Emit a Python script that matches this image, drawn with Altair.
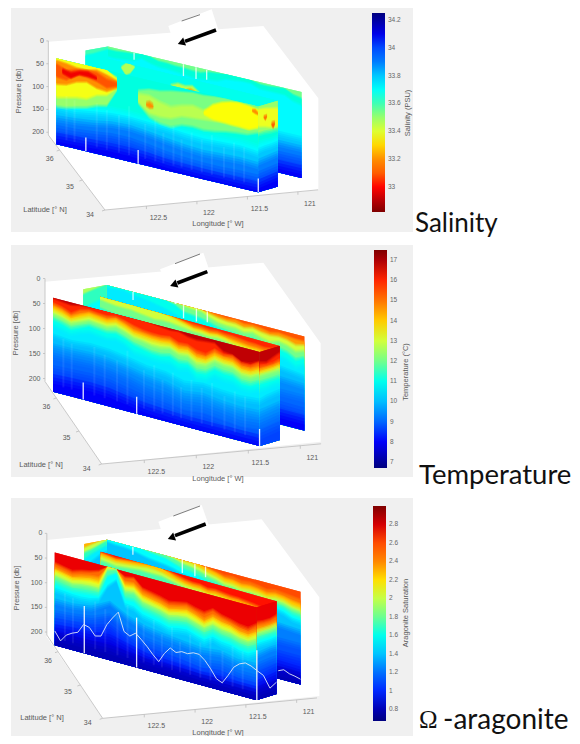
import altair as alt
import numpy as np
import pandas as pd

# ---------- geometry of the three 3-D views ----------
LON0 = 122.91
P_FLOOR = 206
P_TOP = 18
PANELS = [
    dict(A=(315, 630), L=(303, -28.7), V=(-68, -90), k=1.37, off=0),
    dict(A=(305, 672), L=(312, -28.7), V=(-68, -99), k=1.50, off=240),
    dict(A=(308, 685), L=(304.7, -29), V=(-67, -100), k=1.48, off=490),
]
BACKGROUNDS = [(11, 6, 413, 232), (11, 245, 413, 477), (11, 498, 413, 738)]
HULL_TOP = [[(145, 125), (790, 78), (955, 295)], [(135, 125), (790, 68), (962, 310)], [(140, 150), (785, 88), (958, 322)]]
HULL_BOT = [[(145, 405), (315, 630), (955, 570)], [(135, 425), (305, 672), (962, 605)], [(140, 440), (308, 685), (958, 618)]]
BOX_TOP = [[(505, 78), (635, 28), (668, 130)], [(480, 88), (610, 38), (645, 140)], [(475, 95), (605, 45), (640, 145)]]
BOX_BOT = [[(505, 78), (540, 185), (668, 130)], [(480, 88), (525, 192), (645, 140)], [(475, 95), (510, 198), (640, 145)]]
ARROW = [[(648, 90), (555, 124)], [(622, 95), (532, 129)], [(617, 102), (525, 137)]]
ARROW_TIP = [(547, 127), (524, 133), (517, 142)]
BOX_EDGE = [[(545, 63), (600, 44)], [(525, 71), (600, 42)], [(520, 78), (600, 48)]]

# survey legs: lon/lat of each end
FRONT = (122.90, 36.19, 121.37, 34.10)
SIDE = (121.37, 34.10, 121.15, 34.22)
MIDDLE = (122.47, 36.09, 121.15, 34.22)
LINK = (122.575, 36.35, 122.34, 36.41)
BACK = (122.34, 36.41, 120.87, 34.42)

PRESSURE_TICKS = [0, 50, 100, 150, 200]
LAT_TICKS = [34, 35, 36]
LON_TICKS = [122.5, 122, 121.5, 121]
LON_LABELS = ["122.5", "122", "121.5", "121"]
FRONT_GAPS = [0.146, 0.405, 1.0]
GAP_TOPS = [[176, 176, 176], [172, 172, 172], [110, 105, 105]]
BACK_GAPS = [0.135, 0.39, 0.455, 0.51]
BACK_GAP_BOTTOM = [34, 44, 44, 40, 36]
STREAKS = [0.05, 0.09, 0.2, 0.25, 0.31, 0.36, 0.44, 0.49, 0.53, 0.58, 0.62, 0.67, 0.72, 0.77, 0.83, 0.88, 0.93]
STREAK_TOP = [95, 100, 95, 105, 110, 85, 115, 100, 125, 105, 130, 110, 120, 105, 125, 110, 115]

# ---------- Temperature ----------
T_DOMAIN = (6.7, 17.5)
T_TICKS = [7, 8, 9, 10, 11, 12, 13, 14, 15, 16, 17]
TF_160 = [22, 24, 26, 22, 20, 18, 18, 18, 18, 18, 18, 20, 22, 24, 22, 28, 30, 28, 26, 40, 42, 52, 50, 40]
TF_150 = [31, 35, 43, 31, 26, 28, 29, 25, 29, 35, 39, 41, 41, 38, 46, 45, 53, 55, 39, 46, 43, 54, 54, 42]
TF_140 = [38, 42, 50, 40, 32, 34, 36, 30, 36, 44, 46, 48, 48, 46, 54, 52, 62, 62, 48, 52, 52, 62, 62, 52]
TF_130 = [46, 50, 57, 48, 40, 42, 44, 38, 44, 52, 54, 56, 56, 54, 62, 60, 70, 70, 56, 60, 60, 70, 70, 60]
TF_120 = [54, 58, 64, 56, 48, 50, 52, 46, 52, 60, 62, 66, 66, 62, 70, 68, 80, 78, 64, 68, 68, 78, 78, 68]
TF_110 = [64, 68, 74, 66, 58, 60, 62, 58, 64, 72, 76, 80, 80, 76, 84, 82, 94, 92, 78, 82, 82, 92, 92, 82]
TF_105 = [78, 82, 86, 78, 72, 74, 76, 72, 78, 90, 92, 94, 94, 92, 100, 96, 110, 108, 94, 98, 98, 106, 106, 98]
TF_100 = [100, 104, 100, 102, 108, 116, 118, 128, 122, 126, 128, 124]
TF_095 = [122, 122, 120, 122, 128, 136, 140, 150, 144, 150, 152, 150]
TF_090 = [142, 142, 140, 144, 150, 160, 164, 172, 168, 172, 176, 172]
TF_085 = [170, 168, 166, 168, 176, 184, 188, 194, 190, 194, 198, 194]
TF_080 = [190, 188, 186, 188, 194, 200, 202, 204, 204, 204, 204, 204]
T_FRONT = [(16.8, [18, 18]), (16, TF_160), (15, TF_150), (14, TF_140), (13, TF_130), (12, TF_120), (11, TF_110),
           (10.5, TF_105), (10, TF_100), (9.5, TF_095), (9, TF_090), (8.5, TF_085), (8, TF_080)]

TB_145 = [18] * 12 + [18, 22, 24, 22, 26, 24, 26, 30, 26, 28, 30, 30]
TB_130 = [18] * 9 + [18, 18, 18, 24, 28, 30, 30, 34, 30, 34, 36, 34, 36, 42, 38]
TB_120 = [18, 18, 18, 18, 18, 18, 18, 18, 18, 22, 24, 24, 32, 38, 40, 40, 44, 40, 46, 50, 44, 48, 56, 50]
TB_110 = [18, 18, 18, 18, 18, 18, 18, 18, 24, 34, 36, 38, 42, 48, 50, 52, 56, 52, 58, 64, 58, 62, 72, 64]
TB_105 = [26, 24, 22, 26, 28, 30, 34, 38, 44, 50, 52, 54, 56, 60, 62, 66, 70, 68, 72, 80, 74, 78, 88, 80]
T_BACK = [(15.5, [18, 18]), (14.5, TB_145), (13, TB_130), (12, TB_120), (11, TB_110), (10.5, TB_105),
          (10, [60, 60, 70, 80, 95, 105]), (9.5, [100, 100, 105, 115, 120, 125]),
          (9, [140, 140, 140, 145, 150, 150]), (8.5, [170, 170, 170, 172, 176, 178]), (8, [192, 192, 192, 192, 194, 194])]
T_LINK = [(12.6, [18, 18]), (11.5, [30, 26, 22, 18]), (10.8, [60, 54, 50, 46])]
TM_150 = [18] * 9 + [18, 20, 22, 24, 24, 26, 24, 26, 26, 28, 30, 30, 32, 30, 28]
TM_140 = [18] * 9 + [18, 22, 26, 30, 30, 32, 30, 32, 34, 36, 38, 38, 40, 38, 36]
TM_130 = [18] * 9 + [22, 26, 30, 34, 34, 36, 34, 36, 40, 42, 44, 44, 46, 44, 42]
TM_120 = [26, 28, 30, 30, 30, 32, 34, 36, 34, 34, 36, 38, 40, 40, 42, 40, 42, 46, 48, 50, 50, 52, 50, 48]
TM_110 = [44, 46, 48, 48, 46, 48, 50, 52, 50, 50, 52, 54, 56, 56, 58, 56, 58, 62, 64, 66, 66, 68, 66, 64]
T_MIDDLE = [(16, [18, 18]), (15, TM_150), (14, TM_140), (13, TM_130), (12, TM_120), (11, TM_110), (10.2, [70, 72, 76, 80])]
T_SIDE = [(16.8, [18, 18]), (16, [42, 46, 40, 34]), (15, [50, 52, 52, 48]), (14, [58, 58, 58, 56]), (13, [64, 64, 64, 62]),
          (12, [70, 70, 70, 70]), (11, [84, 84, 84, 84]), (10.5, [100, 100, 98, 98]), (10, [124, 120, 118, 116]),
          (9.5, [148, 146, 144, 142]), (9, [172, 170, 168, 166]), (8.5, [194, 192, 190, 188])]

# ---------- Aragonite saturation ----------
O_DOMAIN = (0.67, 3.0)
O_TICKS = [0.8, 1, 1.2, 1.4, 1.6, 1.8, 2, 2.2, 2.4, 2.6, 2.8]
OF_250 = [42, 46, 50, 44, 40, 34, 18, 18, 32, 28, 46, 50, 54, 60, 56, 52, 58, 62, 50, 58, 62, 68, 70, 56]
OF_230 = [52, 56, 60, 54, 50, 48, 18, 18, 42, 40, 56, 60, 64, 70, 66, 62, 68, 76, 62, 68, 72, 78, 80, 68]
OF_210 = [58, 62, 66, 62, 58, 58, 19, 18, 50, 48, 64, 68, 72, 78, 74, 70, 76, 84, 70, 76, 78, 86, 88, 76]
OF_195 = [64, 68, 72, 68, 66, 66, 22, 19, 56, 54, 70, 74, 78, 84, 80, 78, 84, 90, 78, 84, 86, 92, 94, 84]
OF_175 = [72, 76, 80, 76, 74, 74, 28, 21, 64, 62, 78, 82, 86, 92, 88, 86, 92, 98, 86, 92, 94, 100, 102, 92]
OF_155 = [84, 88, 90, 88, 86, 84, 40, 28, 76, 76, 90, 94, 98, 104, 100, 98, 104, 110, 98, 104, 106, 112, 114, 104]
OF_140 = [100, 102, 104, 104, 102, 96, 62, 44, 92, 94, 106, 110, 114, 120, 116, 114, 120, 126, 114, 120, 122, 128, 130, 120]
OF_125 = [124, 124, 118, 96, 118, 130, 136, 140, 144, 140, 148, 146]
OF_110 = [150, 146, 140, 124, 146, 156, 160, 164, 170, 164, 172, 172]
OF_100 = [168, 164, 160, 148, 166, 178, 180, 184, 190, 184, 190, 190]
OF_090 = [182, 178, 176, 170, 180, 190, 192, 194, 198, 196, 198, 198]
OF_080 = [198, 196, 196, 194, 198, 202, 202, 203, 204, 204, 204, 204]
O_FRONT = [(2.75, [18, 18]), (2.5, OF_250), (2.3, OF_230), (2.1, OF_210), (1.95, OF_195), (1.75, OF_175), (1.55, OF_155),
           (1.4, OF_140), (1.25, OF_125), (1.1, OF_110), (1.0, OF_100), (0.9, OF_090), (0.8, OF_080)]
OB_245 = [18] * 12 + [20, 24, 28, 26, 30, 28, 30, 34, 30, 32, 34, 36]
OB_225 = [18] * 11 + [18, 24, 28, 34, 34, 38, 36, 38, 42, 38, 40, 44, 46]
OB_200 = [18] * 8 + [18, 22, 22, 26, 32, 36, 42, 42, 46, 44, 46, 50, 46, 48, 54, 56]
OB_175 = [18] * 8 + [22, 28, 30, 34, 40, 44, 50, 50, 54, 52, 54, 58, 54, 56, 62, 64]
OB_155 = [18, 18, 18, 18, 18, 22, 24, 26, 32, 38, 40, 44, 50, 52, 58, 58, 62, 60, 62, 66, 62, 64, 72, 74]
OB_140 = [24, 26, 26, 28, 32, 36, 38, 40, 44, 50, 52, 56, 60, 62, 68, 68, 72, 70, 72, 76, 72, 76, 84, 86]
O_BACK = [(2.6, [18, 18]), (2.45, OB_245), (2.25, OB_225), (2.0, OB_200), (1.75, OB_175), (1.55, OB_155), (1.4, OB_140),
          (1.25, [60, 60, 70, 85, 100, 106]), (1.1, [120, 120, 125, 130, 136, 136]), (1.0, [150, 150, 155, 160, 164, 164]),
          (0.9, [178, 178, 180, 184, 186, 188]), (0.8, [198, 198, 198, 198, 200, 200])]
O_LINK = [(2.3, [18, 18]), (2.0, [28, 24, 20, 18]), (1.7, [38, 34, 28, 22]), (1.5, [52, 44, 38, 32]), (1.4, [70, 60, 50, 44])]
OM_245 = [20, 22, 24, 22, 20, 18, 18, 18, 18, 20, 24, 28, 30, 30, 34, 32, 34, 36, 36, 38, 40, 42, 40, 38]
OM_225 = [24, 26, 28, 26, 24, 22, 20, 18, 18, 24, 30, 34, 36, 36, 40, 38, 40, 42, 42, 44, 46, 48, 46, 44]
OM_200 = [30, 32, 34, 32, 30, 28, 26, 26, 28, 32, 36, 40, 42, 42, 46, 44, 46, 48, 48, 50, 52, 54, 52, 50]
OM_175 = [38, 40, 42, 40, 38, 36, 36, 36, 36, 40, 44, 48, 50, 50, 54, 52, 54, 56, 56, 58, 60, 62, 60, 58]
OM_150 = [50, 52, 54, 52, 50, 50, 50, 50, 50, 52, 56, 60, 62, 62, 66, 64, 66, 68, 68, 70, 72, 74, 72, 70]
O_MIDDLE = [(2.7, [18, 18]), (2.45, OM_245), (2.25, OM_225), (2.0, OM_200), (1.75, OM_175), (1.5, OM_150)]
O_SIDE = [(2.75, [18, 18]), (2.5, [52, 54, 54, 50]), (2.3, [62, 64, 64, 62]), (2.0, [70, 70, 70, 68]), (1.75, [78, 78, 78, 76]),
          (1.55, [88, 88, 88, 88]), (1.4, [102, 102, 102, 100]), (1.25, [122, 120, 118, 118]), (1.1, [146, 144, 142, 142]),
          (1.0, [166, 164, 162, 160]), (0.9, [184, 182, 180, 178]), (0.8, [200, 198, 198, 196])]
# saturation-horizon trace (white line), pressure along each leg
TRACE_FRONT = [177, 194, 179, 172, 167, 148, 151, 165, 162, 136, 119, 104, 140, 146, 137, 147, 158, 171, 182, 162, 148, 154,
               149, 150, 145, 145, 154, 168, 185, 190, 172, 152, 142, 137, 140, 146]
TRACE_SIDE = [146, 160, 190, 182]
TRACE_BACK = [190, 185, 190, 192, 195]

# ---------- Salinity ----------
S_DOMAIN = (32.82, 34.25)
S_TICKS = [33, 33.2, 33.4, 33.6, 33.8, 34, 34.2]
SF_3372 = [118, 118, 112, 105, 105, 108, 110, 112, 112, 110, 108, 112]
SF_3380 = [135, 135, 128, 122, 120, 122, 124, 128, 130, 128, 126, 130]
SF_3390 = [158, 155, 150, 142, 140, 144, 150, 155, 158, 156, 154, 156]
SF_3400 = [182, 180, 176, 170, 170, 175, 182, 186, 188, 188, 186, 186]
SF_3408 = [200, 198, 196, 194, 194, 196, 200, 202, 203, 203, 203, 203]
S_FRONT = [(33.66, [18, 18]), (33.72, SF_3372), (33.8, SF_3380), (33.9, SF_3390), (34.0, SF_3400), (34.08, SF_3408)]
# patches: value, upper, lower, start and end along the leg
S_FRONT_PATCHES = [
    (33.5, [18, 18, 18, 18, 18, 18, 30], [120, 117, 111, 106, 97, 92, 55], 0, 0.30),
    (33.37, [18, 18, 18, 18, 18, 18, 34], [100, 95, 90, 88, 75, 70, 50], 0, 0.30),
    (33.2, [24, 26, 30, 30, 24, 30, 38], [72, 68, 57, 52, 60, 62, 50], 0, 0.30),
    (33.08, [32, 42, 34, 30, 30, 40, 42], [56, 58, 42, 42, 46, 54, 46], 0, 0.30),
    (32.98, [40, 44, 36, 33, 40], [46, 52, 40, 40, 42], 0.03, 0.2),
    (33.54, [48, 40, 38, 32, 28, 24, 24, 21, 19, 19, 18, 18], [72, 95, 103, 105, 95, 93, 95, 92, 87, 84, 82, 73], 0.405, 1.0),
    (33.45, [56, 54, 63, 68, 59, 53, 58, 49, 32, 22, 24, 25], [68, 87, 89, 87, 77, 75, 73, 71, 68, 70, 71, 65], 0.405, 1.0),
    (33.36, [60, 40, 30, 24, 22, 24, 28], [62, 68, 69, 70, 70, 71, 62], 0.73, 1.0),
    (33.2, [72, 68, 73], [73, 76, 74], 0.445, 0.48),
    (33.2, [30, 28, 34], [31, 34, 35], 0.97, 1.0),
]
SB_3365 = [26, 26, 24, 22, 18, 20, 26, 26, 28, 28, 30, 30, 24, 22, 18, 18, 18, 18, 24, 24, 22, 20, 30, 34]
SB_3372 = [44, 44, 42, 40, 30, 36, 40, 40, 42, 44, 46, 46, 42, 40, 32, 30, 28, 28, 36, 36, 36, 36, 46, 50]
S_BACK = [(33.55, [18, 18]), (33.65, SB_3365), (33.72, SB_3372), (33.8, [120, 120, 124, 126, 128, 128]),
          (33.9, [150, 150, 152, 152, 150, 150]), (34.0, [178, 178, 178, 176, 176, 176]), (34.08, [198, 198, 198, 198, 198, 198])]
S_LINK = [(33.6, [18, 18]), (33.68, [30, 30, 28, 26])]
S_MIDDLE = [(33.68, [18, 18])]
S_MIDDLE_PATCHES = [
    (33.46, [30, 20, 18, 22], [30, 42, 36, 22], 0.11, 0.185),
    (33.45, [44, 36, 38, 34, 46], [46, 48, 48, 48, 48], 0.39, 0.555),
    (33.22, [46, 42, 46], [47, 48, 47], 0.48, 0.53),
]
S_SIDE = [(33.5, [18, 18]), (33.65, [84, 84, 86, 86]), (33.72, [104, 104, 104, 102]), (33.8, [122, 120, 120, 118]),
          (33.9, [148, 146, 144, 142]), (34.0, [178, 176, 174, 172]), (34.08, [198, 196, 194, 192])]
S_SIDE_PATCHES = [
    (33.38, [26, 28, 32, 36], [60, 64, 70, 72], 0, 1),
    (33.15, [45, 45, 45], [45, 51, 45], 0.28, 0.45),
    (33.1, [66, 66, 66], [66, 73, 66], 0.68, 0.85),
]

JET = ["#00007f", "#0000ff", "#007fff", "#00ffff", "#7fff7f", "#ffff00", "#ff7f00", "#ff0000", "#7f0000"]
# soft edges of each colour band: reach (share of the edge width) and opacity of each wash
EDGE_WASH = [(1.0, 0.3), (0.66, 0.4), (0.33, 0.55), (0.0, 1.0)]


def proj(panel, lon, lat, p):
    g = PANELS[panel]
    u = LON0 - np.asarray(lon, dtype=float)
    v = np.asarray(lat, dtype=float) - 34
    p = np.asarray(p, dtype=float)
    zx = g["A"][0] + g["L"][0] * u + g["V"][0] * v
    zy = g["A"][1] + g["L"][1] * u + g["V"][1] * v + (p - P_FLOOR) * g["k"]
    return zx / 3, zy / 3 + g["off"]


def leg_rows(panel, leg, levels, patches, name):
    rows = []
    entries = [(val, up, None, 0, 1) for val, up in levels] + list(patches)
    for j, (val, up, low, f0, f1) in enumerate(entries):
        f = np.linspace(f0, f1, len(up))
        lon = leg[0] + (leg[2] - leg[0]) * f
        lat = leg[1] + (leg[3] - leg[1]) * f
        up = np.asarray(up, dtype=float)
        low_arr = np.full(up.shape, float(P_FLOOR)) if low is None else np.asarray(low, dtype=float)
        soft = 2 + 0.09 * up
        for w, (reach, op) in enumerate(EDGE_WASH):
            u2 = np.maximum(up - reach * soft, P_TOP)
            l2 = low_arr if low is None else np.minimum(low_arr + reach * (2 + 0.05 * low_arr), P_FLOOR)
            x, y = proj(panel, lon, lat, u2)
            _, y2 = proj(panel, lon, lat, l2)
            for a, b, c in zip(x, y, y2):
                rows.append(dict(x=float(a), y=float(b), y2=float(c), value=val, op=op, band=f"{name}{j:02d}{w}"))
    return rows


def curtain_layer(panel, dom, ticks, legend_xy, length, reverse, groups):
    rows = []
    for g in groups:
        rows += leg_rows(panel, *g)
    stops = np.linspace(dom[0], dom[1], len(JET)).tolist()
    rng = JET[::-1] if reverse else JET
    return alt.Chart(pd.DataFrame(rows)).mark_area(interpolate="linear").encode(
        x=X, y=Y, y2="y2:Q", detail="band:N",
        opacity=alt.Opacity("op:Q", scale=None, legend=None),
        color=alt.Color("value:Q", scale=alt.Scale(domain=stops, range=rng),
                        legend=alt.Legend(title=None, orient="none", legendX=legend_xy[0] - 8, legendY=legend_xy[1] - 8,
                                          gradientLength=length, gradientThickness=13, gradientStrokeWidth=0,
                                          values=ticks, format=".1~f", labelFontSize=6.5, labelColor="#666666", labelOffset=3,
                                          labelOverlap=False, labelFont="Liberation Sans", direction="vertical")))


xs = alt.Scale(domain=[8, 572], nice=False, zero=False)
ys = alt.Scale(domain=[736, 8], nice=False, zero=False)
X = alt.X("x:Q", scale=xs, axis=None)
Y = alt.Y("y:Q", scale=ys, axis=None)


def envelope(top, bot, name):
    top = np.array(top, dtype=float) / 3
    bot = np.array(bot, dtype=float) / 3
    xv = sorted(set(top[:, 0]) | set(bot[:, 0]))
    return [dict(x=a, y=float(np.interp(a, top[:, 0], top[:, 1])), y2=float(np.interp(a, bot[:, 0], bot[:, 1])), g=name) for a in xv]


bg = alt.Chart(pd.DataFrame([dict(x=a, x2=c, y=b, y2=d) for a, b, c, d in BACKGROUNDS])).mark_rect(color="#f0f0f0").encode(
    x=X, x2="x2:Q", y=Y, y2="y2:Q")

floor_rows, box_rows, axis_rows, arrow_rows, tip_rows, edge_rows = [], [], [], [], [], []
ptext, lattext, lontext, gap_rows, streak_rows = [], [], [], [], []
for i, g in enumerate(PANELS):
    off = g["off"]
    floor_rows += [dict(r, y=r["y"] + off, y2=r["y2"] + off) for r in envelope(HULL_TOP[i], HULL_BOT[i], f"f{i}")]
    box_rows += [dict(r, y=r["y"] + off, y2=r["y2"] + off) for r in envelope(BOX_TOP[i], BOX_BOT[i], f"b{i}")]
    for a, b in ARROW[i]:
        arrow_rows.append(dict(x=a / 3, y=b / 3 + off, g=f"a{i}"))
    tip_rows.append(dict(x=ARROW_TIP[i][0] / 3, y=ARROW_TIP[i][1] / 3 + off))
    for a, b in BOX_EDGE[i]:
        edge_rows.append(dict(x=a / 3, y=b / 3 + off, g=f"e{i}"))
    lat_back = 36.5
    for name, pts in {
        "z": [(LON0, lat_back, 0), (LON0, lat_back, P_FLOOR)],
        "lat": [(LON0, lat_back, P_FLOOR), (LON0, 34, P_FLOOR)],
        "lon": [(LON0, 34, P_FLOOR), (120.8, 34, P_FLOOR)],
    }.items():
        for lo, la, pr in pts:
            xx, yy = proj(i, lo, la, pr)
            axis_rows.append(dict(x=float(xx), y=float(yy), g=f"{name}{i}"))
    for pr in PRESSURE_TICKS:
        xx, yy = proj(i, LON0, lat_back, pr)
        ptext.append(dict(x=float(xx) - 4.5, y=float(yy), t=str(pr)))
        axis_rows += [dict(x=float(xx), y=float(yy), g=f"pt{i}{pr}"), dict(x=float(xx) - 2, y=float(yy), g=f"pt{i}{pr}")]
    for la in LAT_TICKS:
        xx, yy = proj(i, LON0, la, P_FLOOR)
        lattext.append(dict(x=float(xx) - 11 + (la - 34) * 2.5, y=float(yy) + 5 + (la - 34) * 2, t=str(la)))
        axis_rows += [dict(x=float(xx), y=float(yy), g=f"lt{i}{la}"), dict(x=float(xx) - 3, y=float(yy) + 1, g=f"lt{i}{la}")]
    for lo, lab in zip(LON_TICKS, LON_LABELS):
        xx, yy = proj(i, lo, 34, P_FLOOR)
        lontext.append(dict(x=float(xx) + 12, y=float(yy) + 12, t=lab))
        axis_rows += [dict(x=float(xx), y=float(yy), g=f"ln{i}{lo}"), dict(x=float(xx), y=float(yy) + 3, g=f"ln{i}{lo}")]
    for f, top in zip(FRONT_GAPS, GAP_TOPS[i]):
        lo, la = FRONT[0] + (FRONT[2] - FRONT[0]) * f, FRONT[1] + (FRONT[3] - FRONT[1]) * f
        xx, y1 = proj(i, lo, la, top)
        _, y2 = proj(i, lo, la, P_FLOOR)
        gap_rows.append(dict(x=float(xx), y=float(y1), y2=float(y2)))
    for f, top in zip(STREAKS, STREAK_TOP):
        lo, la = FRONT[0] + (FRONT[2] - FRONT[0]) * f, FRONT[1] + (FRONT[3] - FRONT[1]) * f
        xx, y1 = proj(i, lo, la, top)
        _, y2 = proj(i, lo, la, 192)
        streak_rows.append(dict(x=float(xx), y=float(y1), y2=float(y2)))

floor = alt.Chart(pd.DataFrame(floor_rows)).mark_area(color="white").encode(x=X, y=Y, y2="y2:Q", detail="g:N")
axes_lines = alt.Chart(pd.DataFrame(axis_rows)).mark_line(color="#bdbdbd", strokeWidth=0.8).encode(x=X, y=Y, detail="g:N")

back_gap_rows = []
for i in range(3):
    for f, low in zip(BACK_GAPS, BACK_GAP_BOTTOM):
        lo, la = BACK[0] + (BACK[2] - BACK[0]) * f, BACK[1] + (BACK[3] - BACK[1]) * f
        xx, y1 = proj(i, lo, la, P_TOP)
        _, y2 = proj(i, lo, la, low)
        back_gap_rows.append(dict(x=float(xx), y=float(y1), y2=float(y2)))


def gap_layer(rows, opacity, width=1.3):
    return alt.Chart(pd.DataFrame(rows)).mark_rule(color="white", strokeWidth=width, opacity=opacity).encode(x=X, y=Y, y2="y2:Q")


sal = curtain_layer(0, S_DOMAIN, S_TICKS, (372, 13), 199, True, [
    (BACK, S_BACK, [], "a"), (LINK, S_LINK, [], "b"), (MIDDLE, S_MIDDLE, S_MIDDLE_PATCHES, "c"),
    (FRONT, S_FRONT, S_FRONT_PATCHES, "d"), (SIDE, S_SIDE, S_SIDE_PATCHES, "e")])
tem = curtain_layer(1, T_DOMAIN, T_TICKS, (374, 250), 218, False, [
    (BACK, T_BACK, [], "a"), (LINK, T_LINK, [], "b"), (MIDDLE, T_MIDDLE, [], "c"),
    (FRONT, T_FRONT, [], "d"), (SIDE, T_SIDE, [], "e")])
ara = curtain_layer(2, O_DOMAIN, O_TICKS, (373, 506), 215, False, [
    (BACK, O_BACK, [], "a"), (LINK, O_LINK, [], "b"), (MIDDLE, O_MIDDLE, [], "c"),
    (FRONT, O_FRONT, [], "d"), (SIDE, O_SIDE, [], "e")])

trace_rows = []
for leg, vals, f0, f1, name in [(FRONT, TRACE_FRONT, 0, 1, "t1"), (SIDE, TRACE_SIDE, 0, 1, "t2"), (BACK, TRACE_BACK, 0.885, 1, "t3")]:
    f = np.linspace(f0, f1, len(vals))
    xx, yy = proj(2, leg[0] + (leg[2] - leg[0]) * f, leg[1] + (leg[3] - leg[1]) * f, vals)
    for a, b in zip(xx, yy):
        trace_rows.append(dict(x=float(a), y=float(b), g=name))
trace = alt.Chart(pd.DataFrame(trace_rows)).mark_line(color="#dfe8f5", strokeWidth=1, opacity=0.9).encode(x=X, y=Y, detail="g:N")

box = alt.Chart(pd.DataFrame(box_rows)).mark_area(color="white").encode(x=X, y=Y, y2="y2:Q", detail="g:N")
edge = alt.Chart(pd.DataFrame(edge_rows)).mark_line(color="#444444", strokeWidth=0.7).encode(x=X, y=Y, detail="g:N")
shaft = alt.Chart(pd.DataFrame(arrow_rows)).mark_line(color="black", strokeWidth=3.6).encode(x=X, y=Y, detail="g:N")
tip = alt.Chart(pd.DataFrame(tip_rows)).mark_point(shape="triangle", filled=True, color="black", size=70, angle=250, opacity=1).encode(x=X, y=Y)

AXIS_FONT = dict(font="Liberation Sans", color="#5a5a5a", fontSize=7)


def texts(rows, **kw):
    opts = dict(AXIS_FONT)
    opts.update(kw)
    return alt.Chart(pd.DataFrame(rows)).mark_text(**opts).encode(x=X, y=Y, text="t:N")


ptl = texts(ptext, align="right", baseline="middle")
latl = texts(lattext, align="right", baseline="middle")
lonl = texts(lontext, align="center", baseline="middle")
XTITLES = [dict(x=218, y=224, t="Longitude [° W]"), dict(x=218, y=479, t="Longitude [° W]"), dict(x=218, y=733, t="Longitude [° W]")]
YTITLES = [dict(x=45, y=210, t="Latitude [° N]"), dict(x=41, y=465, t="Latitude [° N]"), dict(x=42, y=718, t="Latitude [° N]")]
ZTITLES = [dict(x=19, y=91, t="Pressure [db]"), dict(x=16, y=333, t="Pressure [db]"), dict(x=17, y=588, t="Pressure [db]")]
xtl = texts(XTITLES, align="center", baseline="middle", fontSize=7.5)
ytl = texts(YTITLES, align="center", baseline="middle", fontSize=7.5)
ztl = texts(ZTITLES, align="center", baseline="middle", angle=270, fontSize=7.5)
CB_TITLES = [dict(x=408, y=113, t="Salinity (PSU)"), dict(x=406, y=372, t="Temperature (°C)"), dict(x=406, y=613, t="Aragonite Saturation")]
cbl = texts(CB_TITLES, align="center", baseline="middle", angle=270, fontSize=7.5)

SIDE_LABELS = [dict(x=415, y=224, t="Salinity", s=26), dict(x=419, y=476, t="Temperature", s=27.5), dict(x=443, y=721, t="-aragonite", s=28)]
sidel = alt.Chart(pd.DataFrame(SIDE_LABELS)).mark_text(font="Lato", color="#111111", align="left", baseline="middle").encode(
    x=X, y=Y, text="t:N", size=alt.Size("s:Q", scale=None, legend=None))
omega = alt.Chart(pd.DataFrame([dict(x=419, y=720, t="Ω")])).mark_text(font="Liberation Serif", fontSize=25, color="#111111", align="left", baseline="middle").encode(x=X, y=Y, text="t:N")

chart = alt.layer(
    bg, floor, axes_lines, sal, tem, ara, gap_layer(streak_rows, 0.08, 2), gap_layer(gap_rows, 0.9), gap_layer(back_gap_rows, 0.8), trace,
    box, edge, shaft, tip, ptl, latl, lonl, xtl, ytl, ztl, cbl, sidel, omega,
).resolve_scale(color="independent").properties(
    width=564, height=728, padding=0, background="white",
    autosize=alt.AutoSizeParams(type="none"),
).configure_view(stroke=None)

chart.save("out.html", embed_options={"renderer": "svg", "actions": False})
